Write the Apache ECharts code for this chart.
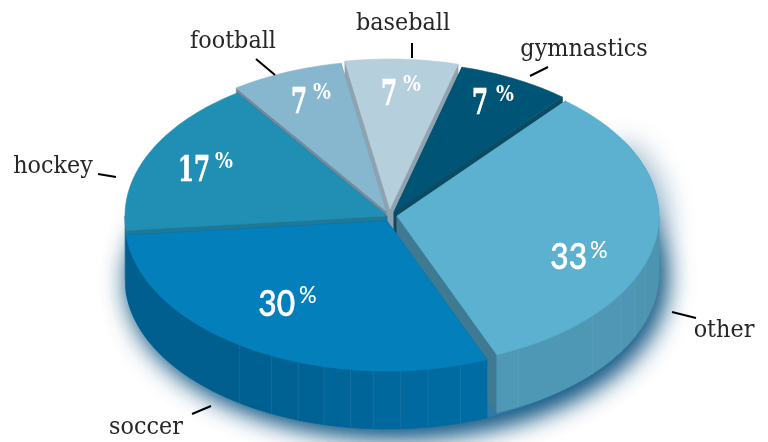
<!DOCTYPE html>
<html>
<head>
<meta charset="utf-8">
<style>html,body{margin:0;padding:0;background:#fff}#chart{width:768px;height:442px}</style>
<script src="https://cdn.jsdelivr.net/npm/echarts@6/dist/echarts.min.js"></script>
</head>
<body>
<div id="chart"></div>
<script>
// Share of participation by sport, clockwise from the upper-right cut.
const categories = ['other', 'soccer', 'hockey', 'football', 'baseball', 'gymnastics'];
const shares = [33, 30, 17, 7, 7, 7];

// Pie geometry: ellipse radii, extrusion depth, and where the first slice starts (degrees clockwise from 12 o'clock).
const RX = 262, RY = 150, DEPTH = 58, START = 40;

// Per-slice appearance: apex position, colours, wall seams, label and leader placement.
const look = {
  other:      {c:[397,216], top:'#5cb0d0', cut:'#3f7a93', wallA:'#4d94b0', wallB:'#5099b6',
               seams:[108.7,114.6,121.2,131.8,152.4], num:[587,275], pct:[590,239], slab:false,
               name:[724,331], lead:[[672,312],[696,318]]},
  soccer:     {c:[387,221], top:'#0380bb', cut:'#00639a', wallA:'#006da5', wallB:'#005e8d',
               seams:[163.7,171,177,183,188,193.9,199.8,206.2,214.2], num:[295,322], pct:[299,284], slab:false,
               name:[146,428], lead:[[192,414],[211,406]]},
  hockey:     {c:[387,216], top:'#218eb3', cut:'#1f7896', wallA:'#1d7896', wallB:'#1d7896',
               seams:[], num:[210,190], pct:[215,151], slab:true,
               name:[53,167], lead:[[98,174],[116,177]]},
  football:   {c:[386,211], top:'#87b6cf', cut:'#76899a', wallA:'#76899a', wallB:'#76899a',
               seams:[], num:[307,122], pct:[313,82], slab:true,
               name:[233,42], lead:[[256,59],[275,75]]},
  baseball:   {c:[390,209], top:'#b5cfdd', cut:'#8fa2ae', wallA:'#8fa2ae', wallB:'#8fa2ae',
               seams:[], num:[397,114], pct:[403,74], slab:true,
               name:[403,24], lead:[[412,43],[412,58]]},
  gymnastics: {c:[394,212], top:'#005576', cut:'#0c4a63', wallA:'#0c4a63', wallB:'#0c4a63',
               seams:[], num:[488,123], pct:[496,84], slab:true,
               name:[584,50], lead:[[530,76],[548,67]]}
};

// Slices are painted back to front so nearer walls cover farther ones.
const paintOrder = ['baseball', 'gymnastics', 'football', 'hockey', 'other', 'soccer'];

// Shapes that cast the soft glow: base ellipses doubled for depth, plus the upper-right rim.
const glowCasters = [
  {slice: 'soccer', lowered: true, from: 0, to: 360, alpha: 0.85},
  {slice: 'other', lowered: true, from: 0, to: 360, alpha: 0.7},
  {slice: 'soccer', lowered: true, from: 0, to: 360, alpha: 0.85},
  {slice: 'other', lowered: false, from: 60, to: 110, alpha: 0.45}
];

const total = shares.reduce((a, b) => a + b, 0);
const spans = {};
let cursor = START;
categories.forEach((name, i) => {
  const sweep = shares[i] / total * 360;
  spans[name] = [cursor, cursor + sweep];
  cursor += sweep;
});

function rim(c, deg) {
  const r = deg * Math.PI / 180;
  return [c[0] + RX * Math.sin(r), c[1] - RY * Math.cos(r)];
}
function arc(c, from, to) {
  const pts = [];
  const n = Math.max(2, Math.ceil(Math.abs(to - from) / 1.5));
  for (let k = 0; k <= n; k++) pts.push(rim(c, from + (to - from) * k / n));
  return pts;
}
const drop = p => [p[0], p[1] + DEPTH];
const poly = (points, fill, stroke) => ({
  type: 'polygon',
  shape: {points},
  style: {fill, stroke: stroke || fill, lineWidth: 0.6}
});
function mix(a, b, t) {
  const pa = parseInt(a.slice(1), 16), pb = parseInt(b.slice(1), 16);
  const ch = s => Math.round(((pa >> s) & 255) * (1 - t) + ((pb >> s) & 255) * t);
  return 'rgb(' + ch(16) + ',' + ch(8) + ',' + ch(0) + ')';
}

function renderSlice(params) {
  const name = paintOrder[params.dataIndex];
  const L = look[name], c = L.c;
  const a0 = spans[name][0], a1 = spans[name][1];
  const els = [];

  // Cut faces on both radial edges.
  [a0, a1].forEach(a => {
    const e = rim(c, a);
    els.push(poly([c, e, drop(e), drop(c)], L.cut));
  });

  // Outer wall, only where the rim faces the viewer; split into facets at the seams.
  const lo = Math.max(a0, 90), hi = Math.min(a1, 270);
  if (hi > lo) {
    const cuts = [lo].concat(L.seams.filter(s => s > lo && s < hi), [hi]);
    for (let k = 0; k < cuts.length - 1; k++) {
      const pts = arc(c, cuts[k], cuts[k + 1]);
      const fill = mix(L.wallA, L.wallB, (k + 0.5) / (cuts.length - 1));
      els.push(poly(pts.concat(pts.slice().reverse().map(drop)), fill));
    }
    L.seams.forEach(s => {
      if (s <= lo || s >= hi) return;
      const e = rim(c, s);
      els.push({type: 'line', shape: {x1: e[0], y1: e[1], x2: e[0], y2: e[1] + DEPTH},
                style: {stroke: 'rgba(255,255,255,0.08)', lineWidth: 1}});
    });
  }

  // Top face.
  els.push(poly([c].concat(arc(c, a0, a1)), L.top));
  return {type: 'group', children: els};
}

function renderGlow(params) {
  const g = glowCasters[params.dataIndex];
  const base = look[g.slice].c;
  const c = g.lowered ? drop(base) : base;
  const outline = arc(c, g.from, g.to);
  return {
    type: 'polygon',
    shape: {points: g.to - g.from < 360 ? [c].concat(outline) : outline},
    style: {fill: '#2f7ba3', shadowBlur: 28, shadowColor: 'rgba(15,85,130,' + g.alpha + ')', shadowOffsetX: 7, shadowOffsetY: 3}
  };
}

function renderLabel(params, api) {
  const i = api.value(0);
  const name = categories[i], L = look[name];
  const numFont = L.slab ? 'bold 36px "DejaVu Serif"' : '500 36px Lato';
  const pctFont = L.slab ? 'bold 23px "DejaVu Serif"' : '500 23px Lato';
  return {
    type: 'group',
    children: [
      {type: 'text', x: L.num[0], y: L.num[1], scaleX: L.slab ? 0.64 : 0.88,
       style: {text: String(api.value(1)), x: 0, y: 0, fill: '#fff', stroke: '#fff', lineWidth: L.slab ? 0.7 : 0.5,
               font: numFont, align: 'right', verticalAlign: 'bottom'}},
      {type: 'text', x: L.pct[0], y: L.pct[1], scaleX: L.slab ? 0.82 : 0.95,
       style: {text: '%', x: 0, y: 0, fill: '#fff', font: pctFont, align: 'left', verticalAlign: 'top'}},
      {type: 'line', shape: {x1: L.lead[0][0], y1: L.lead[0][1], x2: L.lead[1][0], y2: L.lead[1][1]},
       style: {stroke: '#000', lineWidth: 2}},
      {type: 'text', x: L.name[0], y: L.name[1], scaleX: 0.95,
       style: {text: name, x: 0, y: 0, fill: '#262626', font: '23.5px "DejaVu Serif"', align: 'center', verticalAlign: 'middle'}}
    ]
  };
}

const chart = echarts.init(document.getElementById('chart'), null, {renderer: 'canvas'});
chart.setOption({
  animation: false,
  backgroundColor: '#fff',
  series: [
    {type: 'custom', coordinateSystem: 'none', silent: true, z: 1, renderItem: renderGlow,
     data: glowCasters.map((g, i) => [i])},
    {type: 'custom', coordinateSystem: 'none', silent: true, z: 2, renderItem: renderSlice,
     data: paintOrder.map(n => [categories.indexOf(n), shares[categories.indexOf(n)]])},
    {type: 'custom', coordinateSystem: 'none', silent: true, z: 3, renderItem: renderLabel,
     data: categories.map((n, i) => [i, shares[i]])}
  ]
});
</script>
</body>
</html>
